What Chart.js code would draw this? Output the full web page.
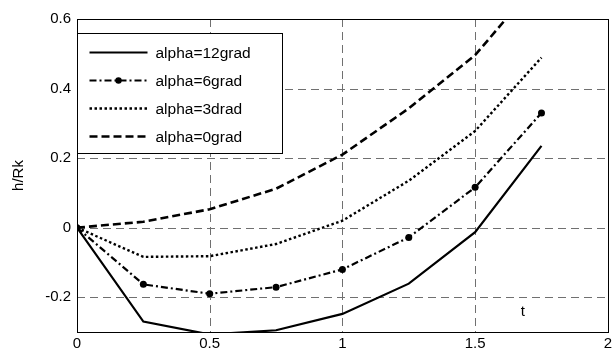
<!DOCTYPE html>
<html>
<head>
<meta charset="utf-8">
<script src="https://cdn.jsdelivr.net/npm/chart.js@4.4.1/dist/chart.umd.min.js"></script>
<style>
  html, body { margin: 0; padding: 0; background: #fff; }
  #wrap { width: 615px; height: 356px; }
</style>
</head>
<body>
<div id="wrap"><canvas id="chart" width="615" height="356"></canvas></div>
<script>
// data
const tValues = [0, 0.25, 0.5, 0.75, 1, 1.25, 1.5, 1.75];
const alpha12 = [0, -0.27, -0.307, -0.295, -0.248, -0.161, -0.013, 0.235];
const alpha6 = [0, -0.163, -0.19, -0.171, -0.12, -0.028, 0.116, 0.33];
const alpha3 = [0, -0.084, -0.082, -0.047, 0.02, 0.135, 0.278, 0.489];
const alpha0 = [0, 0.017, 0.053, 0.112, 0.21, 0.343, 0.496, 0.72];
const seriesNames = ['alpha=12grad', 'alpha=6grad', 'alpha=3drad', 'alpha=0grad'];
const yTicks = [-0.2, 0, 0.2, 0.4, 0.6];
const xTicks = [0, 0.5, 1, 1.5, 2];

const FONT = 'Liberation Sans, Arial, sans-serif';

function pts(vals) {
    return vals.map((v, i) => ({ x: tValues[i], y: v }));
}

// line styles per series
const styles = [
    { dash: [], width: 2.2, marker: false },
    { dash: [7, 3, 2, 3], width: 2.2, marker: true },
    { dash: [2.5, 2.5], width: 2.4, marker: false },
    { dash: [8, 4], width: 2.6, marker: false }
];

const allSeries = [alpha12, alpha6, alpha3, alpha0];

// dashed grid (matlab style), drawn under the lines
const gridPlugin = {
    id: 'dashGrid',
    beforeDatasetsDraw(chart) {
        const ctx = chart.ctx;
        const a = chart.chartArea;
        const xs = chart.scales.x, ys = chart.scales.y;
        ctx.save();
        ctx.strokeStyle = '#707070';
        ctx.lineWidth = 1;
        ctx.setLineDash([8, 5]);
        xTicks.forEach(v => {
            const px = Math.round(xs.getPixelForValue(v)) + 0.5;
            ctx.beginPath();
            ctx.moveTo(px, a.top);
            ctx.lineTo(px, a.bottom);
            ctx.stroke();
        });
        yTicks.forEach(v => {
            const py = Math.round(ys.getPixelForValue(v)) + 0.5;
            ctx.beginPath();
            ctx.moveTo(a.left, py);
            ctx.lineTo(a.right, py);
            ctx.stroke();
        });
        ctx.restore();
    }
};

// box around plot + "t" label + legend
const decorPlugin = {
    id: 'decor',
    afterDatasetsDraw(chart) {
        const ctx = chart.ctx;
        const a = chart.chartArea;
        ctx.save();
        ctx.strokeStyle = '#000';
        ctx.lineWidth = 1;
        ctx.setLineDash([]);
        ctx.strokeRect(Math.round(a.left) + 0.5, Math.round(a.top) + 0.5,
            Math.round(a.right - a.left), Math.round(a.bottom - a.top));

        // "t" inside the plot
        const xs = chart.scales.x, ys = chart.scales.y;
        ctx.fillStyle = '#000';
        ctx.font = '15px ' + FONT;
        ctx.textAlign = 'center';
        ctx.textBaseline = 'middle';
        ctx.fillText('t', xs.getPixelForValue(1.68), ys.getPixelForValue(-0.243));

        // legend
        const lx = Math.round(a.left) + 0.5, ly = Math.round(a.top) + 14.5;
        const lw = 205, lh = 120;
        ctx.fillStyle = '#fff';
        ctx.fillRect(lx, ly, lw, lh);
        ctx.strokeStyle = '#000';
        ctx.lineWidth = 1;
        ctx.strokeRect(lx, ly, lw, lh);
        ctx.font = '15.5px ' + FONT;
        ctx.textAlign = 'left';
        seriesNames.forEach((name, i) => {
            const yy = ly + 19 + i * 28;
            const st = styles[i];
            ctx.beginPath();
            ctx.setLineDash(st.dash);
            ctx.lineWidth = st.width;
            ctx.strokeStyle = '#000';
            ctx.moveTo(lx + 12, yy);
            ctx.lineTo(lx + 70, yy);
            ctx.stroke();
            ctx.setLineDash([]);
            if (st.marker) {
                ctx.beginPath();
                ctx.arc(lx + 41, yy, 3.2, 0, Math.PI * 2);
                ctx.fillStyle = '#000';
                ctx.fill();
            }
            ctx.fillStyle = '#000';
            ctx.fillText(name, lx + 78, yy + 1);
        });
        ctx.restore();
    }
};

new Chart(document.getElementById('chart'), {
    type: 'line',
    data: {
        datasets: allSeries.map((vals, i) => ({
            label: seriesNames[i],
            data: pts(vals),
            borderColor: '#000',
            backgroundColor: '#000',
            borderWidth: styles[i].width,
            borderDash: styles[i].dash,
            pointRadius: styles[i].marker ? 3.5 : 0,
            pointBackgroundColor: '#000',
            pointBorderWidth: 0,
            tension: 0,
            fill: false
        }))
    },
    options: {
        responsive: false,
        animation: false,
        events: [],
        layout: { padding: { top: 19, right: 4, left: 0, bottom: 0 } },
        plugins: {
            legend: { display: false },
            tooltip: { enabled: false }
        },
        scales: {
            x: {
                type: 'linear',
                min: 0,
                max: 2,
                afterBuildTicks: s => { s.ticks = xTicks.map(v => ({ value: v })); },
                afterFit: s => { s.height = 24; },
                // grid kept on (transparent) so label offsets stay as matlab-like
                grid: { display: true, color: 'rgba(0,0,0,0)', drawTicks: false },
                border: { display: false },
                ticks: {
                    color: '#000',
                    font: { family: FONT, size: 15 },
                    padding: 3,
                    maxRotation: 0,
                    callback: v => String(v)
                }
            },
            y: {
                min: -0.3,
                max: 0.6,
                afterBuildTicks: s => { s.ticks = yTicks.map(v => ({ value: v })); },
                afterFit: s => { s.width = 77; },
                grid: { display: true, color: 'rgba(0,0,0,0)', drawTicks: false },
                border: { display: false },
                ticks: {
                    color: '#000',
                    font: { family: FONT, size: 15 },
                    padding: 6,
                    callback: v => String(Math.round(v * 10) / 10)
                },
                title: {
                    display: true,
                    text: 'h/Rk',
                    color: '#000',
                    font: { family: FONT, size: 15 },
                    padding: { top: 10, bottom: 0 }
                }
            }
        }
    },
    plugins: [gridPlugin, decorPlugin]
});
</script>
</body>
</html>
